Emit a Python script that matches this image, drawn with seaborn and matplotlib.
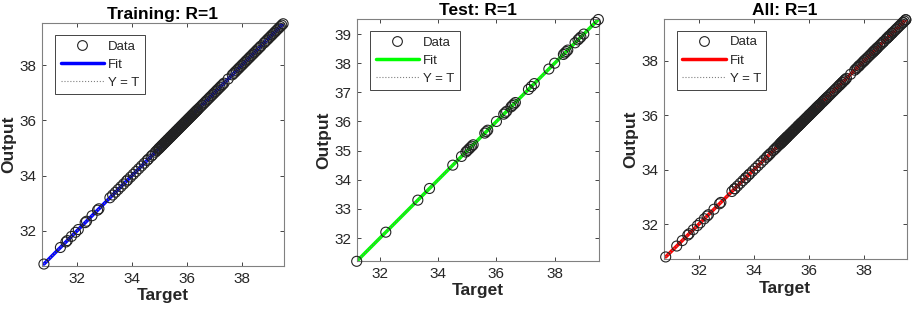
import matplotlib
matplotlib.use("Agg")
import matplotlib.pyplot as plt
import seaborn as sns
import pandas as pd
from matplotlib.lines import Line2D

sns.set_style("white")
plt.rcParams['font.family'] = ['Liberation Sans', 'DejaVu Sans']

# ---------------- data ----------------
training_target = [30.8, 31.4, 31.6, 31.65, 31.8, 31.95, 32.05, 32.3, 32.35, 32.55, 32.75, 32.8,
                   33.2, 33.3, 33.4, 33.5, 33.6, 33.7, 33.8, 33.85, 33.95, 34.05, 34.15, 34.25,
                   34.35, 34.45, 34.55, 34.6, 34.7, 34.75, 34.85, 34.9, 34.95, 34.98, 35.0, 35.02,
                   35.05, 35.08, 35.1, 35.12, 35.15, 35.18, 35.2, 35.22, 35.25, 35.28, 35.3, 35.32,
                   35.35, 35.38, 35.4, 35.42, 35.45, 35.48, 35.5, 35.52, 35.55, 35.58, 35.6, 35.62,
                   35.65, 35.68, 35.7, 35.72, 35.75, 35.78, 35.8, 35.83, 35.85, 35.88, 35.9, 35.93,
                   35.95, 35.98, 36.0, 36.03, 36.05, 36.08, 36.1, 36.13, 36.15, 36.18, 36.2, 36.23,
                   36.25, 36.28, 36.3, 36.33, 36.35, 36.38, 36.4, 36.45, 36.5, 36.55, 36.6, 36.65,
                   36.7, 36.75, 36.8, 36.85, 36.9, 36.95, 37.0, 37.05, 37.1, 37.15, 37.2, 37.25,
                   37.3, 37.35, 37.5, 37.65, 37.7, 37.75, 37.8, 37.85, 37.9, 37.95, 38.0, 38.05,
                   38.1, 38.15, 38.2, 38.25, 38.3, 38.35, 38.4, 38.45, 38.5, 38.55, 38.6, 38.65,
                   38.7, 38.8, 38.85, 38.9, 38.95, 39.0, 39.05, 39.1, 39.15, 39.2, 39.25, 39.3,
                   39.35, 39.4, 39.45, 39.5]
training_output = list(training_target)  # R = 1

test_target = [31.2, 32.2, 33.3, 33.7, 34.5, 34.8, 34.95, 35.0, 35.05, 35.1, 35.15, 35.2,
               35.6, 35.65, 35.7, 36.0, 36.25, 36.3, 36.35, 36.5, 36.55, 36.6, 36.65, 37.1,
               37.2, 37.3, 37.8, 38.0, 38.3, 38.35, 38.4, 38.45, 38.7, 38.8, 38.85, 38.9,
               39.0, 39.4, 39.5]
test_output = list(test_target)  # R = 1

all_target = training_target + test_target
all_output = training_output + test_output

panels = [
    ("Training: R=1", training_target, training_output, "#0000FF", (30.73, 39.53), [32, 34, 36, 38], [32, 34, 36, 38]),
    ("Test: R=1", test_target, test_output, "#00FF00", (31.21, 39.52), [32, 34, 36, 38], [32, 33, 34, 35, 36, 37, 38, 39]),
    ("All: R=1", all_target, all_output, "#FF0000", (30.73, 39.53), [32, 34, 36, 38], [32, 34, 36, 38]),
]

positions = [
    [0.046, 0.142, 0.265, 0.784],
    [0.391, 0.158, 0.265, 0.781],
    [0.727, 0.165, 0.266, 0.774],
]

fig = plt.figure(figsize=(9.13, 3.10), dpi=100)
edge = "#262626"

for (title, tgt, out, color, lim, xt, yt), pos in zip(panels, positions):
    ax = fig.add_axes(pos)
    df = pd.DataFrame({"Target": tgt, "Output": out})
    line_df = pd.DataFrame({"Target": [min(tgt), max(tgt)], "Output": [min(tgt), max(tgt)]})
    sns.lineplot(data=line_df, x="Target", y="Output", color=color, linewidth=2.5, ax=ax, zorder=2)
    sns.lineplot(data=line_df, x="Target", y="Output", color="#808080", linewidth=0.8,
                 linestyle=":", ax=ax, zorder=3)
    sns.scatterplot(data=df, x="Target", y="Output", marker="o", s=52, facecolors="none",
                    edgecolor="#222222", linewidth=0.8, ax=ax, zorder=4, clip_on=False)
    ax.set_xlim(*lim)
    ax.set_ylim(*lim)
    ax.set_xticks(xt)
    ax.set_yticks(yt)
    ax.tick_params(direction="in", length=3, width=0.6, colors=edge, labelsize=11,
                   top=True, right=True, bottom=True, left=True, pad=4)
    for sp in ax.spines.values():
        sp.set_visible(True)
        sp.set_color("#808080")
        sp.set_linewidth(0.8)
    ax.set_title(title, fontsize=12.5, fontweight="bold", color="black", pad=3)
    ax.set_xlabel("Target", fontsize=12.5, fontweight="bold", color=edge, labelpad=2)
    ax.set_ylabel("Output", fontsize=12.5, fontweight="bold", color=edge, labelpad=2)

    handles = [
        Line2D([], [], linestyle="none", marker="o", markerfacecolor="none",
               markeredgecolor="#222222", markersize=7, markeredgewidth=0.8),
        Line2D([], [], color=color, linewidth=2.5),
        Line2D([], [], color="#808080", linewidth=0.8, linestyle=":"),
    ]
    leg = ax.legend(handles, ["Data", "Fit", "Y = T"], loc="upper left",
                    bbox_to_anchor=(0.055, 0.95), fontsize=9.5, frameon=True,
                    fancybox=False, edgecolor="#262626", framealpha=1,
                    handlelength=3.3, handletextpad=0.3, borderpad=0.4,
                    labelspacing=0.45, borderaxespad=0)
    leg.get_frame().set_linewidth(0.6)

fig.savefig("out.png", dpi=100)
